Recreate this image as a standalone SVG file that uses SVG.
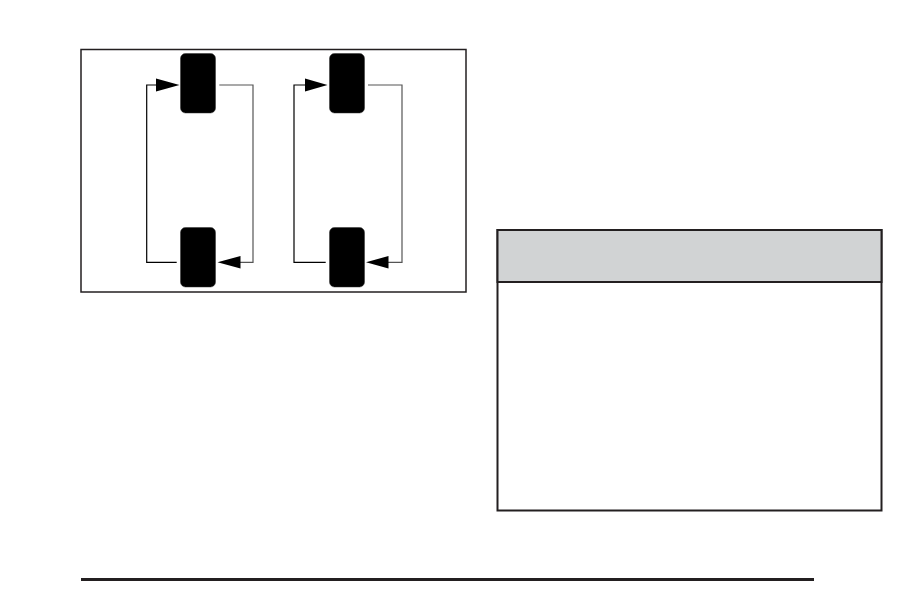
<svg xmlns="http://www.w3.org/2000/svg" width="918" height="612" viewBox="0 0 918 612">
<style>
.frame{fill:#fff;stroke:#231f20;stroke-width:1.5}
.tire{fill:#000;stroke:#333;stroke-width:0.5}
.ln{fill:none;stroke:#000;stroke-width:1.2}
.lg{fill:none;stroke:#555;stroke-width:1.2}
.ah{fill:#000}
.box{fill:#fff;stroke:#231f20;stroke-width:2}
.hdr{fill:#d1d3d4;stroke:#231f20;stroke-width:2}
</style>
<rect width="918" height="612" fill="#fff"/>
<rect class="frame" x="81" y="49.5" width="385" height="242.5"/>
<g id="connectors">
<path class="ln" d="M176.7 262.3 H146.7 V85 H160"/>
<path class="lg" d="M219.3 85 H253 V262.3 H238"/>
<polygon class="ah" points="179.5,85 156,78.5 156,91.5"/>
<polygon class="ah" points="217.5,262.3 240.5,256 240.5,268.6"/>
<path class="ln" d="M325.7 262.3 H294 V85 H308"/>
<path class="lg" d="M368 85 H402 V262.3 H386"/>
<polygon class="ah" points="327.5,85 305,78.5 305,91.5"/>
<polygon class="ah" points="366,262.3 388.5,256 388.5,268.6"/>
</g>
<g id="tire-front-left"><rect class="tire" x="180.5" y="53.5" width="35" height="59.5" rx="5"/></g>
<g id="tire-rear-left"><rect class="tire" x="180.5" y="227.5" width="35" height="59.5" rx="5"/></g>
<g id="tire-front-right"><rect class="tire" x="329.5" y="53.5" width="35" height="59.5" rx="5"/></g>
<g id="tire-rear-right"><rect class="tire" x="329.5" y="227.5" width="35" height="59.5" rx="5"/></g>
<g id="notice-box">
<rect class="box" x="497.5" y="230" width="384" height="280.5"/>
<rect class="hdr" x="497.5" y="230" width="384" height="52"/>
</g>
<line x1="81" y1="579.5" x2="814" y2="579.5" stroke="#231f20" stroke-width="3"/>
</svg>
